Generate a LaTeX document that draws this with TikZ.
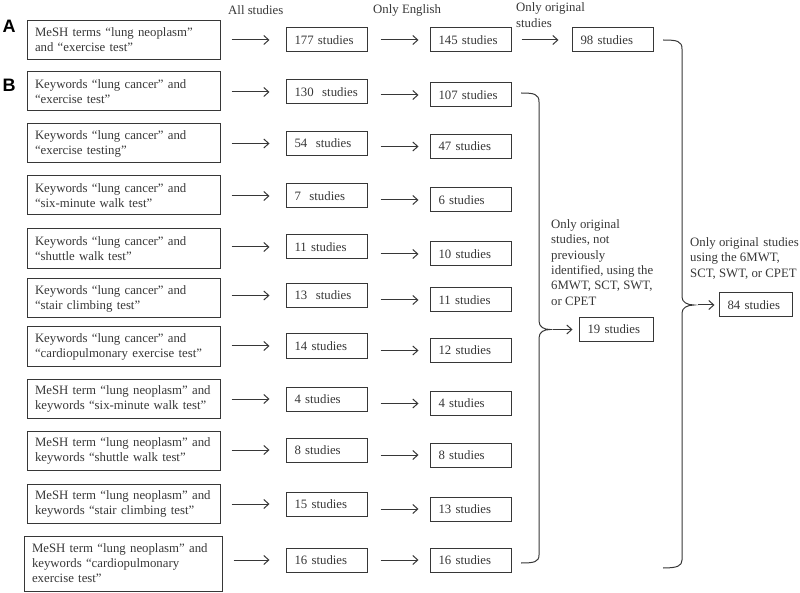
\documentclass[tikz,border=0pt]{standalone}
\usepackage{fontspec}
\setmainfont{Liberation Serif}
\newfontfamily\labfont{Liberation Sans}
\usetikzlibrary{arrows.meta}
\definecolor{ink}{RGB}{55,55,55}
\begin{document}
\begin{tikzpicture}[x=1pt,y=-1pt,
  every node/.style={text=ink, font=\fontsize{12.8}{15}\selectfont},
  lbox/.style={draw=ink, line width=1pt, rectangle, text width=177pt, inner xsep=8pt, inner ysep=0pt, minimum height=39pt, align=left},
  sbox/.style={draw=ink, line width=1pt, rectangle, text width=64pt, inner xsep=8.5pt, inner ysep=0pt, minimum height=24pt, align=left},
  arr/.style={draw=ink, line width=1pt, -{Straight Barb[length=5pt,width=9pt,line width=1pt]}},
  brace/.style={draw=ink, line width=1pt},
  plain/.style={inner sep=0pt, align=left},
  panel/.style={inner sep=0pt, font=\labfont\bfseries\fontsize{18}{18}\selectfont, text=black}
]
\useasboundingbox (0,0) rectangle (800,593);

% headers
\node[plain, anchor=west] (h1) at (228,10) {All studies};
\node[plain, anchor=west] (h2) at (373,10) {Only English};
\node[plain, anchor=west, font=\fontsize{12.8}{16}\selectfont] (h3) at (516,15) {Only original\\studies};

% panel labels
\node[panel] (pA) at (9,26) {A};
\node[panel] (pB) at (9,85) {B};

% left boxes
\node[lbox] (LA) at (123.5,40) {MeSH terms “lung neoplasm”\\and “exercise test”};
\node[lbox] (L1) at (123.5,91.5) {Keywords “lung cancer” and\\“exercise test”};
\node[lbox] (L2) at (123.5,143.5) {Keywords “lung cancer” and\\“exercise testing”};
\node[lbox] (L3) at (123.5,195.5) {Keywords “lung cancer” and\\“six-minute walk test”};
\node[lbox, minimum height=40pt] (L4) at (123.5,249) {Keywords “lung cancer” and\\“shuttle walk test”};
\node[lbox] (L5) at (123.5,298.5) {Keywords “lung cancer” and\\“stair climbing test”};
\node[lbox] (L6) at (123.5,346.5) {Keywords “lung cancer” and\\“cardiopulmonary exercise test”};
\node[lbox] (L7) at (123.5,398.5) {MeSH term “lung neoplasm” and\\keywords “six-minute walk test”};
\node[lbox] (L8) at (123.5,450.5) {MeSH term “lung neoplasm” and\\keywords “shuttle walk test”};
\node[lbox] (L9) at (123.5,503.5) {MeSH term “lung neoplasm” and\\keywords “stair climbing test”};
\node[lbox, text width=182pt, minimum height=55pt] (L10) at (123,563.5) {MeSH term “lung neoplasm” and\\keywords “cardiopulmonary\\exercise test”};

% all studies column
\node[sbox] (CA) at (326.5,40) {177 studies};
\node[sbox] (C1) at (326.5,92) {130\ \ studies};
\node[sbox] (C2) at (326.5,143.5) {54\ \ studies};
\node[sbox] (C3) at (326.5,196) {7\ \ studies};
\node[sbox] (C4) at (326.5,247) {11 studies};
\node[sbox] (C5) at (326.5,295.5) {13\ \ studies};
\node[sbox] (C6) at (326.5,346) {14 studies};
\node[sbox] (C7) at (326.5,399) {4 studies};
\node[sbox] (C8) at (326.5,450) {8 studies};
\node[sbox] (C9) at (326.5,504) {15 studies};
\node[sbox] (C10) at (326.5,560) {16 studies};

% only English column
\node[sbox] (EA) at (470.5,40) {145 studies};
\node[sbox] (E1) at (470.5,95) {107 studies};
\node[sbox] (E2) at (470.5,146.5) {47 studies};
\node[sbox] (E3) at (470.5,200) {6 studies};
\node[sbox] (E4) at (470.5,254) {10 studies};
\node[sbox] (E5) at (470.5,300) {11 studies};
\node[sbox] (E6) at (470.5,350.5) {12 studies};
\node[sbox] (E7) at (470.5,403.5) {4 studies};
\node[sbox] (E8) at (470.5,455) {8 studies};
\node[sbox] (E9) at (470.5,509) {13 studies};
\node[sbox] (E10) at (470.5,560) {16 studies};

% only original (A)
\node[sbox] (OA) at (612.5,40) {98 studies};

% result boxes
\node[sbox, text width=57pt] (N19) at (616,329.5) {19 studies};
\node[sbox, text width=56pt] (N84) at (755.5,305) {84 studies};

% arrows: left boxes -> all studies -> only English
\foreach \r in {A,1,2,3,4,5,6,7,8,9,10}{
  \draw[arr, shorten <=11pt, shorten >=16pt] (L\r.east |- C\r.west) -- (C\r.west);
  \draw[arr, shorten <=13pt, shorten >=11pt] (C\r.east |- E\r.west) -- (E\r.west);
}
\draw[arr, shorten <=10pt, shorten >=13pt] (EA.east) -- (OA.west);

% brace 1
\coordinate (b1a) at (521,93);
\coordinate (b1b) at (521,563);
\coordinate (b1tip) at (550,329.5);
\draw[brace] (b1a) .. controls (534,93) and (539,94) .. (539,102)
  -- (539,321) .. controls (539,327) and (544,329.5) .. (b1tip)
  .. controls (544,329.5) and (539,332) .. (539,338)
  -- (539,555) .. controls (539,562) and (534,563) .. (b1b);
\draw[arr, shorten <=3pt, shorten >=6pt] (b1tip) -- (N19.west);

% brace 2
\coordinate (b2a) at (663,40);
\coordinate (b2b) at (663,568);
\coordinate (b2tip) at (694,305);
\draw[brace] (b2a) .. controls (677,40) and (682,41) .. (682,49)
  -- (682,297) .. controls (682,302) and (687,305) .. (b2tip)
  .. controls (687,305) and (682,308) .. (682,313)
  -- (682,560) .. controls (682,566) and (677,568) .. (b2b);
\draw[arr, shorten <=4pt, shorten >=4pt] (b2tip) -- (N84.west);

% brace labels
\node[plain, anchor=west, font=\fontsize{12.8}{15.4}\selectfont] (t1) at (551,262.5) {Only original\\studies, not\\previously\\identified, using the\\6MWT, SCT, SWT,\\or CPET};
\node[plain, anchor=west, font=\fontsize{12.8}{15.5}\selectfont] (t2) at (690,258.5) {Only original\hspace{4.5pt}studies\\using the 6MWT,\\SCT, SWT, or CPET};
\end{tikzpicture}
\end{document}
